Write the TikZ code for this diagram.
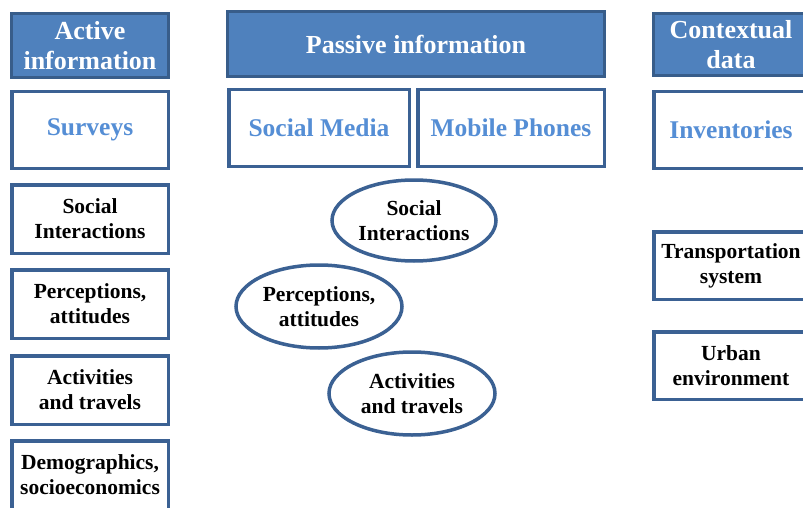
\documentclass[tikz,border=0pt]{standalone}
\usepackage{fontspec}
\setmainfont{Liberation Serif}
\usepackage{tikz}
\usetikzlibrary{shapes.geometric}

\definecolor{headfill}{HTML}{4F81BD}
\definecolor{headline}{HTML}{385D8A}
\definecolor{boxline}{HTML}{3B6193}
\definecolor{srctext}{HTML}{558ED5}

\tikzset{
  header/.style={rectangle, fill=headfill, draw=headline, line width=3pt, inner sep=0pt,
    text=white, align=center, font=\bfseries\fontsize{26}{30}\selectfont},
  srcbox/.style={rectangle, fill=white, draw=boxline, line width=3.5pt, inner sep=0pt,
    text=srctext, align=center, font=\bfseries\fontsize{25.5}{30}\selectfont},
  itembox/.style={rectangle, fill=white, draw=boxline, line width=3.5pt, inner sep=0pt,
    align=center, font=\bfseries\fontsize{21.5}{25}\selectfont},
  itemoval/.style={ellipse, fill=white, draw=boxline, line width=3.5pt, inner sep=0pt,
    align=center, font=\bfseries\fontsize{21.5}{25}\selectfont}
}

\begin{document}
\begin{tikzpicture}[x=1pt,y=-1pt]
\useasboundingbox (0,0) rectangle (803,508);
\clip (0,0) rectangle (803,508);

% active information
\node [header, minimum width=157pt, minimum height=64pt] (act) at (90,45.5) {Active\\information};
\node [srcbox, minimum width=156.5pt, minimum height=76.5pt] (surveys) at (90,130) {Surveys};
\node [itembox, minimum width=156.5pt, minimum height=68.5pt] (actsoc) at (90,219) {Social\\Interactions};
\node [itembox, minimum width=156.5pt, minimum height=68.5pt] (actperc) at (90,304) {Perceptions,\\attitudes};
\node [itembox, minimum width=156.5pt, minimum height=68.5pt] (acttrav) at (90,390) {Activities\\and travels};
\node [itembox, minimum width=156.5pt, minimum height=68.5pt] (actdemo) at (90,475) {Demographics,\\socioeconomics};

% passive information
\node [header, minimum width=377pt, minimum height=65pt] (pas) at (416,44) {Passive information};
\node [srcbox, minimum width=180.5pt, minimum height=76.5pt] (socmedia) at (319,128) {Social Media};
\node [srcbox, minimum width=186.5pt, minimum height=76.5pt] (phones) at (511,128) {Mobile Phones};
\node [itemoval, minimum width=164pt, minimum height=81pt] (passoc) at (414,220.5) {Social\\Interactions};
\node [itemoval, minimum width=166pt, minimum height=83pt] (pasperc) at (319,306.5) {Perceptions,\\attitudes};
\node [itemoval, minimum width=166pt, minimum height=83pt] (pastrav) at (412,393.5) {Activities\\and travels};

% contextual data
\node [header, minimum width=155pt, minimum height=62pt] (ctx) at (731,44.5) {Contextual\\data};
\node [srcbox, minimum width=154.5pt, minimum height=76.5pt] (invent) at (731,130) {Inventories};
\node [itembox, minimum width=154.5pt, minimum height=67.5pt] (transp) at (731,265.5) {Transportation\\system};
\node [itembox, minimum width=154.5pt, minimum height=67.5pt] (urban) at (731,365.5) {Urban\\environment};
\end{tikzpicture}
\end{document}
